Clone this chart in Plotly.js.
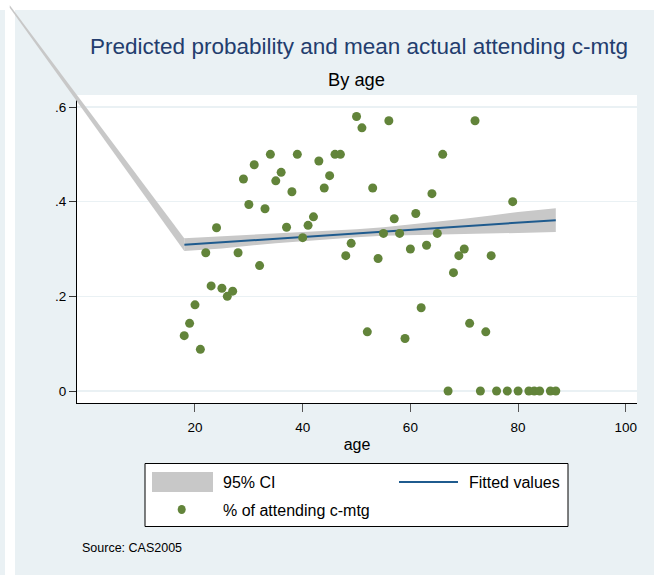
<!DOCTYPE html>
<html><head><meta charset="utf-8">
<script src="https://cdn.plot.ly/plotly-3.0.1.min.js"></script>
<style>html,body{margin:0;padding:0;background:#ffffff;}#chart{width:654px;height:575px;}</style>
</head><body><div id="chart"></div>
<script>
// ---- data ----
const ages = [18,19,20,21,22,23,24,25,26,27,28,29,30,31,32,33,34,35,36,37,38,39,40,41,42,43,44,45,46,47,48,49,50,51,52,53,54,55,56,57,58,59,60,61,62,63,64,65,66,67,68,69,70,71,72,73,74,75,76,78,79,80,82,83,84,86,87];
const attendShare = [0.117,0.143,0.182,0.088,0.292,0.222,0.345,0.217,0.200,0.211,0.292,0.448,0.394,0.478,0.265,0.385,0.500,0.444,0.462,0.346,0.421,0.500,0.324,0.350,0.368,0.486,0.429,0.455,0.500,0.500,0.286,0.312,0.580,0.556,0.125,0.429,0.280,0.333,0.571,0.364,0.333,0.111,0.300,0.375,0.176,0.308,0.417,0.333,0.500,0,0.250,0.286,0.300,0.143,0.571,0,0.125,0.286,0,0,0.400,0,0,0,0,0,0];
const fitAges = [18, 87];
const fitValues = [0.309, 0.361];
const ciAges  = [18, 25, 30, 35, 40, 45, 50, 55, 60, 65, 70, 75, 80, 87];
const ciLower = [0.296,0.301,0.307,0.312,0.317,0.321,0.325,0.328,0.330,0.331,0.332,0.333,0.334,0.336];
const ciUpper = [0.323,0.327,0.330,0.332,0.335,0.338,0.342,0.346,0.352,0.357,0.364,0.371,0.378,0.386];
// stray end point of the CI band, drawn outside the plot region in the source
const ciStrayAge = -14.4;
const ciStrayLower = 0.810;
const ciStrayUpper = 0.815;
const xTickVals = [20, 40, 60, 80, 100];
const xTickText = ['20', '40', '60', '80', '100'];
const yTickVals = [0, 0.2, 0.4, 0.6];
const yTickText = ['0', '.2', '.4', '.6'];
const seriesNames = ['95% CI', 'Fitted values', '% of attending c-mtg'];

// ---- layout geometry ----
const W = 654, H = 575;
const M = {l: 77, r: 17, t: 95, b: 172};
const plotW = W - M.l - M.r, plotH = H - M.t - M.b;
const xRange = [-1.91, 102.08];
const yRange = [-0.02535, 0.6254];
const FONT = 'Liberation Sans, Arial, Helvetica, sans-serif';
const BG = '#eaf1f4';
const CI_COLOR = '#c8c8c8', FIT_COLOR = '#1f5b8e', DOT_COLOR = '#62843a';

const pxX = p => (p - M.l) / plotW;
const pxY = p => (H - M.b - p) / plotH;
const dataX = v => (v - xRange[0]) / (xRange[1] - xRange[0]);
const dataY = v => (v - yRange[0]) / (yRange[1] - yRange[0]);

const ciPolyX = ciAges.concat(ciAges.slice().reverse());
const ciPolyY = ciUpper.concat(ciLower.slice().reverse());

const traces = [
  {x: ciPolyX, y: ciPolyY, type: 'scatter', mode: 'lines', fill: 'toself',
   fillcolor: CI_COLOR, line: {width: 0, color: CI_COLOR}, name: seriesNames[0], hoverinfo: 'skip'},
  {x: fitAges, y: fitValues, type: 'scatter', mode: 'lines',
   line: {color: FIT_COLOR, width: 2}, name: seriesNames[1]},
  {x: ages, y: attendShare, type: 'scatter', mode: 'markers',
   marker: {color: DOT_COLOR, size: 9}, name: seriesNames[2]}
];

const strayPath = 'M' + dataX(ciStrayAge) + ',' + dataY(ciStrayUpper) +
  ' L' + dataX(ciAges[0]) + ',' + dataY(ciUpper[0]) +
  ' L' + dataX(ciAges[0]) + ',' + dataY(ciLower[0]) +
  ' L' + dataX(ciStrayAge) + ',' + dataY(ciStrayLower) + ' Z';

const legendFont = {family: FONT, size: 16, color: '#000000'};
const P = (o) => Object.assign({xref: 'paper', yref: 'paper'}, o);

const layout = {
  width: W, height: H,
  margin: M,
  paper_bgcolor: BG,
  plot_bgcolor: '#ffffff',
  font: {family: FONT, color: '#000000', size: 13.5},
  showlegend: false,
  title: {text: 'Predicted probability and mean actual attending c-mtg',
          font: {family: FONT, size: 22.5, color: '#233d6e'},
          xref: 'paper', x: pxX(359), xanchor: 'center',
          yref: 'container', y: 1 - 46 / H, yanchor: 'middle'},
  xaxis: {range: xRange, tickvals: xTickVals, ticktext: xTickText,
          showgrid: false, zeroline: false, showline: true, linecolor: '#000000', linewidth: 1,
          ticks: 'outside', ticklen: 8, tickcolor: '#555555', tickwidth: 1,
          ticklabelstandoff: 4,
          tickfont: {family: FONT, size: 13.5, color: '#000000'},
          title: {text: 'age', font: {family: FONT, size: 16, color: '#000000'}, standoff: 4}},
  yaxis: {range: yRange, tickvals: yTickVals, ticktext: yTickText,
          showgrid: true, gridcolor: BG, gridwidth: 1.5, zeroline: false,
          showline: true, linecolor: '#000000', linewidth: 1,
          ticks: 'outside', ticklen: 7, tickcolor: '#333333', tickwidth: 1,
          tickfont: {family: FONT, size: 13.5, color: '#000000'}},
  annotations: [
    P({text: 'By age', x: pxX(356), y: pxY(79), xanchor: 'center', yanchor: 'middle',
       showarrow: false, font: {family: FONT, size: 18.3, color: '#000000'}}),
    P({text: 'Source: CAS2005', x: pxX(80), y: pxY(548), xanchor: 'left', yanchor: 'middle',
       showarrow: false, font: {family: FONT, size: 12.5, color: '#000000'}}),
    // legend texts
    P({text: seriesNames[0], x: pxX(221), y: pxY(482), xanchor: 'left', yanchor: 'middle', showarrow: false, font: legendFont}),
    P({text: seriesNames[1], x: pxX(467), y: pxY(482), xanchor: 'left', yanchor: 'middle', showarrow: false, font: legendFont}),
    P({text: seriesNames[2], x: pxX(221), y: pxY(510), xanchor: 'left', yanchor: 'middle', showarrow: false, font: legendFont})
  ],
  shapes: [
    // white page margins around the graph region
    P({type: 'rect', x0: pxX(0), x1: pxX(W), y0: pxY(0), y1: pxY(10),
       fillcolor: '#ffffff', line: {width: 0}, layer: 'below'}),
    P({type: 'rect', x0: pxX(5), x1: pxX(15), y0: pxY(0), y1: pxY(H),
       fillcolor: '#ffffff', line: {width: 0}, layer: 'below'}),
    // stray part of the CI band
    P({type: 'path', path: strayPath, fillcolor: CI_COLOR, line: {width: 0}, layer: 'above'}),
    // legend box and keys
    P({type: 'rect', x0: pxX(145), x1: pxX(568), y0: pxY(463.5), y1: pxY(526.5),
       fillcolor: '#ffffff', line: {width: 1, color: '#000000'}, layer: 'above'}),
    P({type: 'rect', x0: pxX(152), x1: pxX(213), y0: pxY(472), y1: pxY(492),
       fillcolor: CI_COLOR, line: {width: 0}, layer: 'above'}),
    P({type: 'line', x0: pxX(399), x1: pxX(458), y0: pxY(482), y1: pxY(482),
       line: {width: 2, color: FIT_COLOR}, layer: 'above'}),
    P({type: 'circle', x0: pxX(177.7), x1: pxX(185.7), y0: pxY(505), y1: pxY(514),
       fillcolor: DOT_COLOR, line: {width: 0}, layer: 'above'})
  ]
};

Plotly.newPlot('chart', traces, layout, {displayModeBar: false, staticPlot: true});
</script></body></html>
